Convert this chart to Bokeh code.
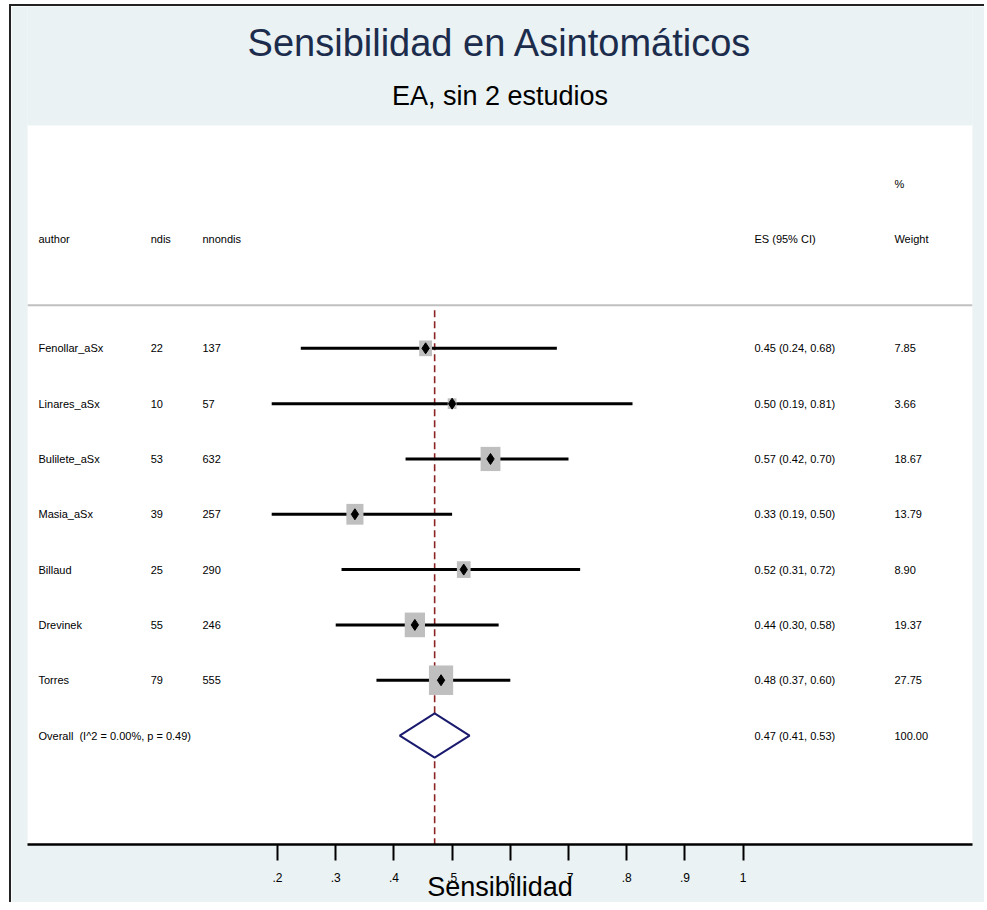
import math
from bokeh.plotting import figure
from bokeh.models import Span, FixedTicker, ColumnDataSource, Range1d, BoxAnnotation
from bokeh.core.properties import value
from bokeh.embed import file_html
from bokeh.resources import INLINE

# ---- data ----
authors = ["Fenollar_aSx", "Linares_aSx", "Bulilete_aSx", "Masia_aSx", "Billaud", "Drevinek", "Torres"]
ndis = [22, 10, 53, 39, 25, 55, 79]
nnondis = [137, 57, 632, 257, 290, 246, 555]
es = [0.4545, 0.50, 0.566, 0.333, 0.52, 0.436, 0.481]
ci_low = [0.24, 0.19, 0.42, 0.19, 0.31, 0.30, 0.37]
ci_high = [0.68, 0.81, 0.70, 0.50, 0.72, 0.58, 0.60]
weights = [7.85, 3.66, 18.67, 13.79, 8.90, 19.37, 27.75]
overall_es = 0.47
overall_low = 0.41
overall_high = 0.53
overall_i2 = 0.00
overall_p = 0.49
overall_weight = 100.00
tick_values = [0.2, 0.3, 0.4, 0.5, 0.6, 0.7, 0.8, 0.9, 1.0]
tick_labels = [".2", ".3", ".4", ".5", ".6", ".7", ".8", ".9", "1"]
title_text = "Sensibilidad en Asintomáticos"
subtitle_text = "EA, sin 2 estudios"
xlabel_text = "Sensibilidad"
header_labels = ["author", "ndis", "nnondis", "ES (95% CI)", "Weight", "%"]

FONT = "'Liberation Sans', Arial, sans-serif"
F = value(FONT)

n = len(authors)
rows = [-i for i in range(n)]
overall_row = -n

src = ColumnDataSource(dict(
    author=authors,
    ndis=[str(v) for v in ndis],
    nnondis=[str(v) for v in nnondis],
    es=es, lo=ci_low, hi=ci_high, y=rows,
    esci=[f"{e:.2f} ({l:.2f}, {h:.2f})" for e, l, h in zip(es, ci_low, ci_high)],
    wt=[f"{w:.2f}" for w in weights],
    bw=[4.6 * math.sqrt(w) for w in weights],
    bh=[5.6 * math.sqrt(w) for w in weights],
))

x0, x1 = -0.2296, 1.3942
y0, y1 = -8.97, 6.18

p = figure(width=975, height=898, x_range=Range1d(x0, x1), y_range=Range1d(y0, y1),
           output_backend="svg", toolbar_location=None, y_axis_location=None,
           title_location=None,
           min_border_left=16, min_border_right=14, min_border_top=0, min_border_bottom=60)
p.background_fill_color = "#eaf2f3"
p.border_fill_color = "#eaf2f3"
p.outline_line_color = None
p.grid.visible = False
p.styles = {"border-left": "2px solid #222222", "border-top": "2px solid #222222",
            "position": "relative", "left": "9px", "top": "4px"}

# white plot region
p.add_layout(BoxAnnotation(top=4.03, fill_color="white", fill_alpha=1.0, line_color=None,
                           level="underlay"))

# axis
ax = p.xaxis[0]
ax.ticker = FixedTicker(ticks=tick_values)
ax.major_label_overrides = {t: l for t, l in zip(tick_values, tick_labels)}
ax.minor_tick_line_color = None
ax.axis_line_width = 2.5
ax.axis_line_color = "black"
ax.major_tick_line_width = 2
ax.major_tick_line_color = "black"
ax.major_tick_out = 16
ax.major_tick_in = 0
ax.major_label_standoff = 12
ax.major_label_text_font = FONT
ax.major_label_text_font_size = "12px"
ax.major_label_text_color = "black"
ax.axis_label = xlabel_text
ax.axis_label_text_font = FONT
ax.axis_label_text_font_size = "27px"
ax.axis_label_text_font_style = "normal"
ax.axis_label_text_color = "black"
ax.axis_label_standoff = -13

# header separator
p.add_layout(Span(location=0.78, dimension="width", line_color="#c0c0c0", line_width=2))

# reference dashed line at overall estimate
p.segment(x0=[overall_es], y0=[0.69], x1=[overall_es], y1=[y0], line_color="#8b2323",
          line_width=1.6, line_dash="7 4")

# CIs, boxes, points
p.segment(x0="lo", y0="y", x1="hi", y1="y", source=src, line_color="black", line_width=3)
p.rect(x="es", y="y", width="bw", height="bh", width_units="screen", height_units="screen",
       source=src, fill_color="#bfbfbf", line_color=None)
p.scatter(x="es", y="y", marker="diamond", size=11, source=src, fill_color="black", line_color="black")

# overall diamond
dh = 0.4
p.patch(x=[overall_low, overall_es, overall_high, overall_es, overall_low],
        y=[overall_row, overall_row + dh, overall_row, overall_row - dh, overall_row],
        fill_color="white", line_color="#1a1a6e", line_width=2)

# text columns
col_author, col_ndis, col_nnondis, col_es, col_wt = -0.2107, -0.018, 0.071, 1.0196, 1.26
tk = dict(text_font=F, text_font_size="11px", text_baseline="middle", text_align="left", text_color="black")
p.text(x=col_author, y="y", text="author", source=src, **tk)
p.text(x=col_ndis, y="y", text="ndis", source=src, **tk)
p.text(x=col_nnondis, y="y", text="nnondis", source=src, **tk)
p.text(x=col_es, y="y", text="esci", source=src, **tk)
p.text(x=col_wt, y="y", text="wt", source=src, **tk)

ov = ColumnDataSource(dict(
    x=[col_author, col_es, col_wt], y=[overall_row] * 3,
    t=[f"Overall\u00a0\u00a0(I^2 = {overall_i2:.2f}%, p = {overall_p:.2f})",
       f"{overall_es:.2f} ({overall_low:.2f}, {overall_high:.2f})", f"{overall_weight:.2f}"]))
p.text(x="x", y="y", text="t", source=ov, **tk)

hd = ColumnDataSource(dict(
    x=[col_author, col_ndis, col_nnondis, col_es, col_wt, col_wt],
    y=[1.97, 1.97, 1.97, 1.97, 1.97, 2.98],
    t=header_labels))
p.text(x="x", y="y", text="t", source=hd, **tk)

# titles
xc = (x0 + x1) / 2
p.text(x=[xc], y=[5.515], text=[title_text], text_font=F, text_font_size="38px",
       text_color="#1c2c4c", text_align="center", text_baseline="middle")
p.text(x=[xc], y=[4.557], text=[subtitle_text], text_font=F, text_font_size="27px",
       text_color="black", text_align="center", text_baseline="middle")

open("out.html", "w").write(file_html(p, INLINE))
